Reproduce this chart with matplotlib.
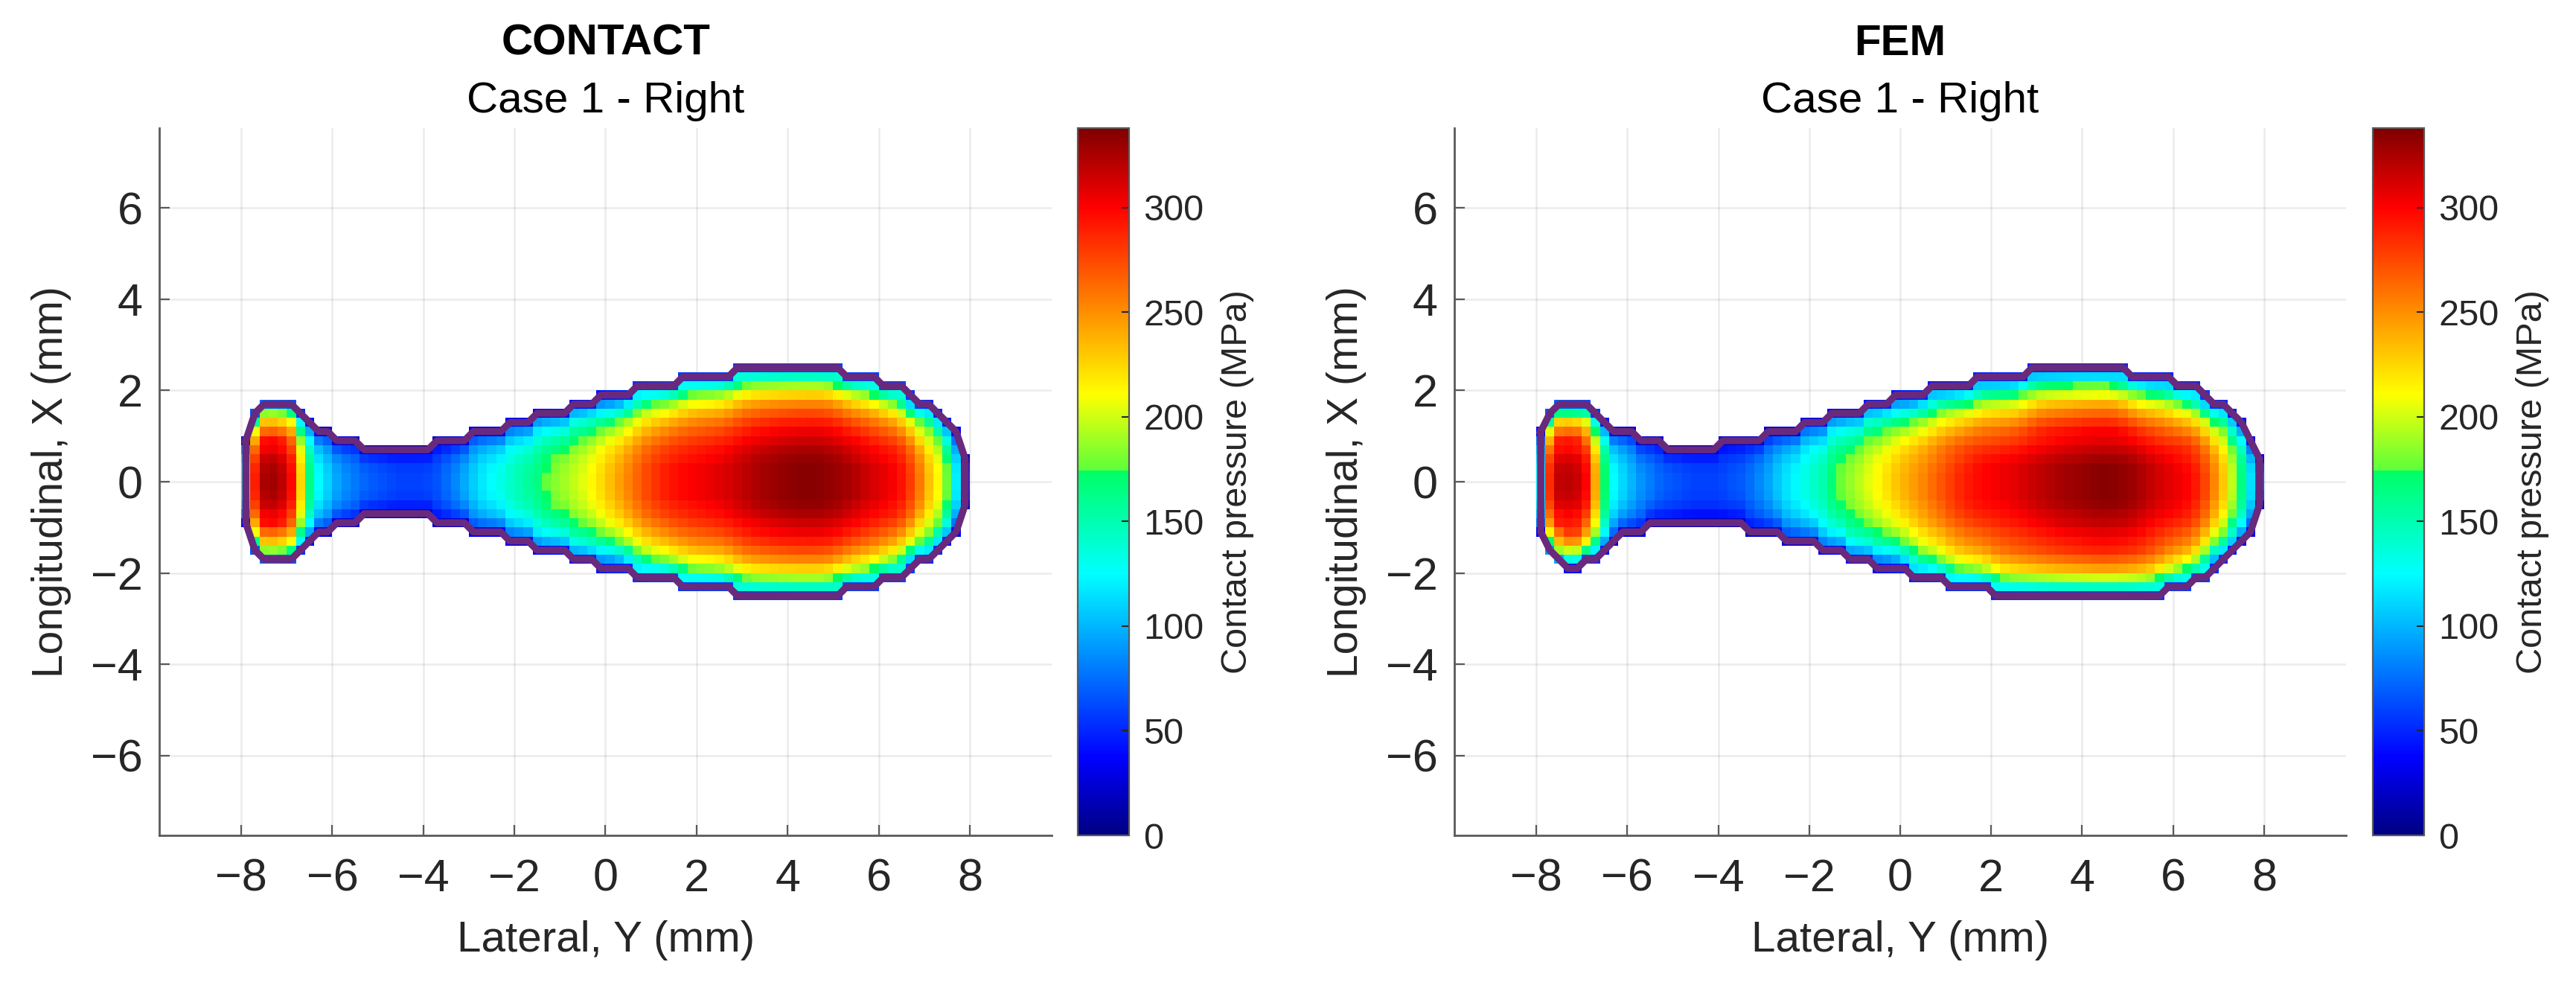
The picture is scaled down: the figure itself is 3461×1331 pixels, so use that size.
import numpy as np
import matplotlib
matplotlib.use("Agg")
import matplotlib.pyplot as plt
from matplotlib.colors import LinearSegmentedColormap, Normalize

plt.rcParams['font.family'] = ['Liberation Sans', 'DejaVu Sans']

TITLES = ["CONTACT", "FEM"]
SUBTITLE = "Case 1 - Right"
XLABEL = "Lateral, Y (mm)"
YLABEL = "Longitudinal, X (mm)"
CBAR_LABEL = "Contact pressure (MPa)"
XTICKS = [-8, -6, -4, -2, 0, 2, 4, 6, 8]
YTICKS = [-6, -4, -2, 0, 2, 4, 6]
CBAR_TICKS = [0, 50, 100, 150, 200, 250, 300]
PMAX = 338
CELL = 0.2

# Pressure (MPa) per lateral column, listed from the centre line outward. CONTACT is symmetric.
CONTACT_HALF = [
[130,126,114,91,39],[290,287,278,264,241,209,160,67],[325,322,315,302,296,263,231,185,72],[328,325,318,305,298,266,233,187,72],
[320,317,310,298,291,259,227,182,70],[298,295,289,277,265,241,210,165,66],[225,223,216,205,187,162,124,52],[165,163,157,145,125,97,41],
[125,123,115,103,80,35],[110,108,101,90,70,31],[95,92,84,67,29],[86,83,76,60,26],[79,77,70,55,24],[73,69,57,26],[68,65,53,24],[65,62,51,23],
[62,59,48,22],[60,57,47,21],[60,57,47,21],[60,57,47,21],[62,59,48,22],[66,64,58,46,20],[74,72,65,52,22],[84,81,74,59,25],[96,93,84,67,29],
[108,106,99,89,69,30],[118,116,109,97,76,33],[125,123,115,103,80,35],[133,130,122,109,85,37],[141,140,134,124,107,83,35],[149,148,142,131,113,88,37],
[157,155,149,138,119,93,39],[165,163,158,150,137,119,91,38],[176,174,169,160,146,127,97,40],[184,182,177,167,153,132,101,42],[190,188,182,173,158,137,105,44],
[197,195,191,183,171,156,134,100,43],[204,202,198,190,177,161,139,104,45],[211,209,205,196,184,167,143,108,46],
[222,220,215,209,198,180,160,127,89,44],[235,233,228,221,209,190,169,134,94,47],[243,241,236,228,216,197,175,139,97,49],[255,252,247,240,227,207,184,145,102,51],
[265,265,260,254,244,231,215,193,164,122,53],[275,275,270,264,253,239,223,201,171,127,55],[283,283,277,272,260,246,229,207,175,130,57],
[290,290,284,278,267,252,235,212,180,133,58],[295,295,289,283,271,257,239,215,183,136,59],
[298,298,292,286,277,265,250,232,209,179,128,57],[301,301,295,289,280,268,253,235,211,181,129,57],[303,303,297,291,282,270,255,236,212,182,130,58],
[306,306,300,294,285,272,257,239,214,184,132,58],[308,308,302,296,286,274,259,240,216,185,132,59],[312,312,306,300,290,278,262,243,218,187,134,59],
[316,316,313,307,297,288,275,259,240,215,180,136,57],[320,320,317,310,301,291,278,262,243,218,182,138,58],[324,324,321,314,305,295,282,266,246,220,185,139,58],
[327,327,324,317,307,298,284,268,249,222,186,141,59],[330,330,327,320,310,300,287,271,251,224,188,142,59],[332,332,329,322,312,302,289,272,252,226,189,143,60],
[334,334,331,324,314,304,291,274,254,227,190,144,60],[335,335,332,325,315,305,291,275,255,228,191,144,60],[336,336,333,326,316,306,292,276,255,228,192,144,60],
[335,335,332,325,315,305,291,275,255,228,191,144,60],[333,333,330,323,313,303,290,273,253,226,190,143,60],[330,330,327,320,310,300,287,271,251,224,188,142,59],
[327,327,320,314,304,291,275,255,229,196,141,62],[322,322,316,309,299,287,270,251,225,193,138,61],[316,316,310,303,294,281,265,246,221,190,136,60],
[311,311,305,299,289,277,261,243,218,187,134,59],[306,306,300,294,282,266,248,223,190,141,61],[302,302,296,290,278,263,245,220,187,139,60],
[299,299,293,287,275,260,242,218,185,138,60],[285,282,276,268,254,231,205,162,114,57],[258,255,250,240,224,204,175,132,57],[232,230,225,216,202,183,158,118,51],
[213,211,204,194,177,153,117,49],[178,176,169,157,135,105,45],[120,118,110,98,77,34],[50,45,21],
]

FEM_TOP = [
[120,118,110,98,77,34],[285,282,274,259,237,205,157,66],[318,315,308,296,290,258,226,165,70],[320,317,310,298,292,262,228,165,70],
[316,313,307,294,288,259,224,160,68],[300,297,291,279,261,237,204,153,66],[240,238,230,218,199,173,132,55],[172,170,163,151,131,101,43],
[125,123,115,103,80,35],[112,110,103,92,72,31],[100,98,92,82,64,28],[88,85,77,62,26],[80,78,70,56,24],[72,70,63,50,22],[68,65,53,24],[65,62,51,23],
[62,59,48,22],[60,57,47,21],[60,57,47,21],[60,57,47,21],[62,60,55,43,19],[65,63,57,46,20],[68,66,60,48,20],[75,73,66,53,23],[84,81,74,59,25],
[94,92,86,77,60,26],[106,104,98,87,68,30],[116,114,107,95,74,32],[124,122,114,102,79,35],[133,132,126,117,101,78,33],[142,141,135,125,108,84,36],
[150,149,143,132,114,89,38],[168,166,161,153,139,121,92,39],[178,176,171,162,148,128,98,41],[187,185,180,170,155,135,103,43],[195,193,187,177,162,140,107,45],
[204,202,198,190,177,161,139,104,45],[212,210,206,197,184,167,144,108,47],[222,220,215,206,193,175,151,113,49],
[232,230,225,218,206,188,167,132,93,46],[238,236,231,224,212,193,171,136,95,48],[245,243,238,230,218,198,176,140,98,49],[253,250,245,238,225,205,182,144,101,51],
[262,259,254,249,238,223,204,181,149,105,45],[270,267,262,257,246,230,211,186,154,108,46],[279,276,271,265,254,237,218,193,159,112,47],
[287,284,278,273,261,244,224,198,164,115,49],[293,290,284,278,267,249,229,202,167,117,50],
[297,297,291,282,270,258,241,220,193,160,107,48],[300,300,294,285,273,261,243,222,195,162,108,48],[302,302,296,287,275,263,245,223,196,163,109,48],
[304,304,298,289,277,264,246,225,198,164,109,49],[307,307,301,292,279,267,249,227,200,166,111,49],[311,311,305,295,283,271,252,230,202,168,112,50],
[315,315,309,299,290,284,268,249,227,195,167,107,47],[320,320,314,304,294,288,272,253,230,198,170,109,48],[323,323,317,307,297,291,275,255,233,200,171,110,48],
[326,326,319,310,300,293,277,258,235,202,173,111,49],[328,328,321,312,302,295,279,259,236,203,174,112,49],[330,330,323,314,304,297,281,261,238,205,175,112,50],
[332,332,325,315,305,299,282,262,239,206,176,113,50],[335,335,328,318,308,302,285,265,241,208,178,114,50],[336,336,329,319,309,302,286,265,242,208,178,114,50],
[335,335,328,318,308,302,285,265,241,208,178,114,50],[333,333,326,316,306,300,283,263,240,206,176,113,50],
[330,330,323,314,300,287,267,244,215,178,119,53],[325,325,319,309,296,283,263,241,211,176,117,52],[316,316,310,300,288,275,256,234,205,171,114,51],
[312,312,306,296,284,271,253,231,203,168,112,50],[308,308,302,293,280,268,249,228,200,166,111,49],
[304,301,295,289,277,258,237,210,173,122,52],[301,298,292,286,274,256,235,208,172,120,51],[298,295,289,283,271,253,232,206,170,119,51],
[280,277,272,263,249,227,202,160,112,56],[254,251,246,236,221,201,173,130,56],[230,228,223,214,200,182,156,117,51],
[197,195,189,179,164,142,108,45],[165,163,157,145,125,97,41],[115,112,101,81,35],[70,62,29],
]

FEM_BOTTOM = [
[120,118,110,98,77,34],[285,282,274,262,245,215,170,90],[318,315,308,296,290,262,235,190,95],[320,317,310,301,293,280,250,200,135,40],
[316,313,307,297,289,277,247,198,133,40],[300,297,291,279,265,245,215,165,62],[240,238,233,223,209,190,163,122,53],[172,170,165,157,143,124,95,40],
[125,124,119,110,95,74,31],[112,110,103,92,72,31],[100,98,92,82,64,28],[88,86,81,72,56,25],[80,78,70,56,24],[72,70,63,50,22],[68,66,60,48,20],[65,63,57,46,20],
[62,60,55,43,19],[60,58,53,42,18],[60,58,53,42,18],[60,58,53,42,18],[62,60,55,43,19],[65,63,57,46,20],[68,66,60,48,20],
[75,74,69,62,48,21],[84,82,77,69,54,24],[94,92,86,77,60,26],[106,104,98,87,68,30],
[116,115,110,102,88,68,29],[124,123,118,109,94,73,31],[133,132,126,117,101,78,33],[142,141,135,125,108,84,36],
[150,149,144,137,125,108,83,35],[168,166,161,153,139,121,92,39],[178,176,171,162,148,128,98,41],
[187,185,181,173,163,148,127,95,41],[195,193,189,181,170,154,133,99,43],[204,202,198,190,177,161,139,104,45],
[212,210,206,199,189,172,153,121,85,42],[222,220,215,209,198,180,160,127,89,44],[232,230,225,218,206,188,167,132,93,46],[238,236,231,224,212,193,171,136,95,48],
[245,245,240,235,228,216,203,184,157,115,49],[253,253,248,243,235,223,210,190,162,119,51],[262,262,257,252,244,231,217,197,168,123,52],[270,270,265,259,251,238,224,203,173,127,54],
[279,279,276,271,262,251,240,226,204,173,123,53],[287,287,284,278,270,258,247,232,210,178,126,55],[293,293,290,284,275,264,252,237,214,182,129,56],
[297,297,294,288,279,267,255,241,217,184,131,56],[300,300,297,291,282,270,258,243,219,186,132,57],
[302,302,299,293,287,278,269,260,242,220,181,130,54],[304,304,301,295,289,280,271,261,243,222,182,131,55],[307,307,304,298,292,282,273,264,246,224,184,132,55],
[311,311,308,302,295,286,277,267,249,227,187,134,56],[315,315,312,306,299,290,280,271,252,230,189,135,57],[320,320,317,310,304,294,285,275,256,234,192,138,58],
[323,323,320,313,307,297,287,278,258,236,194,139,58],[326,326,323,316,310,300,290,280,261,238,196,140,59],[328,328,325,318,312,302,292,282,262,239,197,141,59],
[330,330,327,320,314,304,294,284,264,241,198,142,59],[332,332,329,322,315,305,295,286,266,242,199,143,60],[335,335,332,325,318,308,298,288,268,245,201,144,60],
[336,336,333,326,319,309,299,289,269,245,202,144,60],[335,335,332,325,318,308,298,288,268,245,201,144,60],[333,333,330,323,316,306,296,286,266,243,200,143,60],
[330,330,327,320,314,304,294,284,264,241,198,142,59],[325,325,322,315,309,299,289,280,260,237,195,140,59],[316,316,313,307,300,291,281,272,253,231,190,136,57],
[312,312,309,303,296,287,278,268,250,228,187,134,56],
[308,308,305,299,290,277,265,249,225,191,136,59],[304,304,301,295,286,274,261,246,222,188,134,58],[301,301,298,292,283,271,259,244,220,187,132,57],
[298,298,292,286,277,262,247,224,191,140,60],[280,280,274,269,260,246,232,210,179,132,56],[254,251,246,239,226,206,183,145,102,51],
[230,228,223,214,200,182,156,117,51],[197,195,189,179,164,142,108,45],[165,163,157,145,125,97,41],[115,113,106,94,74,32],[70,62,29],
]

W, H = 3462, 1331
PANELS = [
    dict(title=TITLES[0], top=CONTACT_HALF, bottom=CONTACT_HALF, ax=(214, 1413), cb=(1448, 1517), cx=814),
    dict(title=TITLES[1], top=FEM_TOP, bottom=FEM_BOTTOM, ax=(1954, 3152), cb=(3188, 3257), cx=2553),
]
AX_TOP, AX_BOT = 172, 1122

cmap = LinearSegmentedColormap.from_list("contact", [
    (0.0, (0, 0, 130/255)), (37/PMAX, (0, 0, 1)), (125/PMAX, (0, 1, 1)),
    (174/PMAX, (0, 1, 100/255)), (174.01/PMAX, (90/255, 1, 60/255)),
    (211/PMAX, (1, 1, 0)), (300/PMAX, (1, 0, 0)), (1.0, (128/255, 0, 0))], N=512)
norm = Normalize(0, PMAX)
DARK = '#262626'
SPINE = '#5a5a5a'
PURPLE = '#69297d'

fig = plt.figure(figsize=(W/100, H/100), dpi=100, facecolor='white')


def rect(x0, x1):
    return [x0/W, 1-AX_BOT/H, (x1-x0)/W, (AX_BOT-AX_TOP)/H]


def even_out(half, first=38, last=74, passes=2):
    """Ease the column-to-column steps of the read values inside the large lobe."""
    cols = [list(c) for c in half]
    for _ in range(passes):
        prev = [list(c) for c in cols]
        for j in range(first, last):
            depth = min(len(prev[j-1]), len(prev[j]), len(prev[j+1])) - 1
            for k in range(depth):
                cols[j][k] = (prev[j-1][k] + 2*prev[j][k] + prev[j+1][k]) / 4
    return cols


for p in PANELS:
    ax = fig.add_axes(rect(*p['ax']))
    ncol = len(p['top'])
    nrow = 13
    xe = (np.arange(ncol+1) - ncol/2) * CELL
    ye = np.arange(-nrow, nrow+1) * CELL
    Z = np.full((2*nrow, ncol), np.nan)
    top = even_out(p['top'])
    bottom = even_out(p['bottom'])
    for j, (t, b) in enumerate(zip(top, bottom)):
        for k, v in enumerate(t):
            Z[nrow+k, j] = v
        for k, v in enumerate(b):
            Z[nrow-1-k, j] = v
    ax.grid(True, color='#000000', alpha=0.08, lw=1.8, zorder=0)
    ax.set_axisbelow(True)
    m = ax.pcolormesh(xe, ye, np.ma.masked_invalid(Z), cmap=cmap, norm=norm, shading='flat', zorder=2, antialiased=False)
    xc = (xe[:-1] + xe[1:]) / 2
    top_line = np.array([(len(t)-0.5)*CELL for t in top])
    bot_line = np.array([-(len(b)-0.5)*CELL for b in bottom])
    ox = np.r_[xc, xc[::-1], xc[0]]
    oy = np.r_[top_line, bot_line[::-1], top_line[0]]
    ax.plot(ox, oy, color=PURPLE, lw=6.8, solid_joinstyle='round', zorder=3)
    ax.set_xlim(-9.8, 9.8)
    ax.set_ylim(-7.75, 7.75)
    ax.set_xticks(XTICKS)
    ax.set_yticks(YTICKS)
    for s in ('top', 'right'):
        ax.spines[s].set_visible(False)
    for s in ('left', 'bottom'):
        ax.spines[s].set_color(SPINE)
        ax.spines[s].set_linewidth(2.0)
    ax.tick_params(axis='both', direction='in', length=10, width=1.6, color=SPINE,
                   labelsize=44, labelcolor=DARK)
    ax.tick_params(axis='x', pad=22)
    ax.tick_params(axis='y', pad=16)
    fig.text(p['cx']/W, 1-59/H, p['title'], ha='center', va='center', fontsize=42, fontweight='bold', color='black')
    fig.text(p['cx']/W, 1-136/H, SUBTITLE, ha='center', va='center', fontsize=42, color='black')
    fig.text(p['cx']/W, 1-1263/H, XLABEL, ha='center', va='center', fontsize=42, color=DARK)
    fig.text((p['ax'][0]-145)/W, 1-647/H, YLABEL, ha='center', va='center', rotation=90, fontsize=41, color=DARK)

    cax = fig.add_axes(rect(*p['cb']))
    cb = fig.colorbar(m, cax=cax)
    cb.set_ticks(CBAR_TICKS)
    cb.outline.set_edgecolor(SPINE)
    cb.outline.set_linewidth(1.6)
    cax.tick_params(axis='y', direction='in', length=7, width=1.5, color=DARK,
                    labelsize=35, labelcolor=DARK, pad=14)
    fig.text((p['cb'][1]+146)/W, 1-647/H, CBAR_LABEL, ha='center', va='center', rotation=90, fontsize=35, color=DARK)

fig.savefig('out.png', dpi=100, facecolor='white')
